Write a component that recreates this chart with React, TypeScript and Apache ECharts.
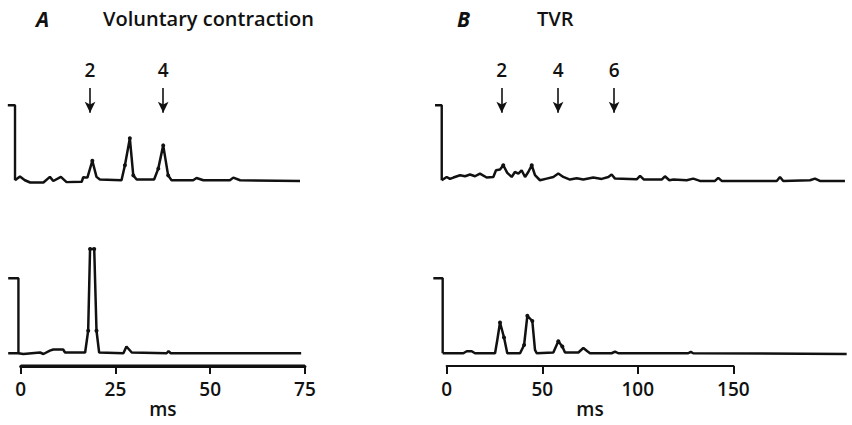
import React, { useEffect, useRef } from "react";
import * as echarts from "echarts";

// Interval histograms (counts, arbitrary units; calibration bar = 10) against time in ms.

// A — voluntary contraction, upper trace
const aTopTime = [-1.5, -0.2, 1.1, 2.5, 6.0, 7.7, 8.6, 10.6, 12.1, 16.1, 16.5, 17.6, 18.9, 20.0, 20.9, 26.6, 27.5, 28.8, 29.7, 30.6, 35.2, 36.3, 37.6, 38.9, 39.8, 45.5, 46.4, 48.2, 55.2, 56.1, 57.9, 73.7];
const aTopCount = [0, 0.5, 0, -0.3, -0.3, 0.45, -0.1, 0.45, -0.25, -0.2, 0.4, 0.35, 2.6, 0.45, 0.1, 0, 2.0, 5.6, 0.65, 0.1, 0.1, 1.55, 4.65, 0.65, 0, 0, 0.3, 0, 0, 0.35, 0, -0.1];
const aTopDots = [12, 16, 17, 18, 21, 22, 23];

// A — voluntary contraction, lower trace
const aBotTime = [-0.6, 0.7, 5.1, 6.0, 7.7, 8.6, 11.2, 11.7, 17.0, 17.8, 18.3, 19.4, 20.0, 20.7, 27.1, 27.9, 29.3, 38.5, 39.0, 39.6, 74.0];
const aBotCount = [0, -0.1, 0.1, -0.1, 0.35, 0.5, 0.5, 0.1, 0.1, 3.0, 13.9, 13.9, 3.0, 0.1, 0, 0.9, 0.1, 0, 0.27, 0, 0];
const aBotDots = [9, 10, 11, 12];

// B — TVR, upper trace
const bTopTime = [-2.6, 0.0, 1.7, 3.5, 7.0, 9.6, 12.2, 14.8, 17.4, 20.9, 24.4, 25.8, 27.9, 29.6, 31.7, 34.0, 35.7, 37.5, 39.2, 41.0, 42.7, 44.5, 46.2, 48.8, 52.3, 55.8, 58.4, 61.0, 64.5, 68.0, 71.5, 76.7, 81.1, 84.6, 86.3, 88.1, 99.4, 101.2, 103.2, 112.5, 114.2, 116.5, 118.7, 125.6, 129.0, 132.5, 140.4, 142.1, 143.9, 172.7, 174.4, 176.1, 190.1, 192.7, 195.3, 208.4];
const bTopCount = [0, 0.44, 0.18, 0.36, 0.67, 0.53, 0.76, 0.53, 0.89, 0.36, 0.44, 1.33, 1.42, 2.0, 0.98, 0.44, 1.1, 0.89, 1.33, 0.44, 1.1, 2.0, 0.67, 0, 0.22, 0.44, 0.89, 0.44, 0.09, 0.27, 0.09, 0.36, 0.18, 0.44, 0.76, 0.22, 0.13, 0.58, 0.09, 0.09, 0.53, 0, 0.09, 0, 0.22, -0.09, -0.09, 0.31, -0.09, -0.09, 0.44, -0.09, 0, 0.22, -0.09, -0.09];
const bTopDots = [13, 21];

// B — TVR, lower trace
const bBotTime = [-2.1, 8.7, 10.5, 13.1, 14.8, 25.3, 26.5, 27.9, 30.0, 31.7, 38.4, 40.5, 42.2, 44.8, 46.2, 47.1, 55.8, 58.4, 60.5, 61.9, 68.9, 71.5, 73.6, 75.0, 86.3, 88.1, 89.8, 126.4, 127.7, 129.0, 209.3];
const bBotCount = [0, 0, 0.27, 0.27, 0, 0, 1.8, 4.1, 2.1, 0, 0, 1.1, 5.0, 4.3, 0.45, 0, 0.1, 1.6, 0.9, 0.1, 0.1, 0.7, 0.27, 0, 0, 0.22, 0, 0, 0.18, 0, -0.09];
const bBotDots = [7, 8, 11, 12, 13, 17, 18];

// Calibration brackets (time, count) for each trace
const aTopBar = [[-3.4, 10], [-1.5, 10], [-1.5, 0]];
const aBotBar = [[-3.3, 10], [-0.6, 10], [-0.6, 0], [-3.3, 0]];
const bTopBar = [[-6.1, 10], [-2.6, 10], [-2.6, 0]];
const bBotBar = [[-7.0, 10], [-2.1, 10], [-2.1, 0]];

// Arrowed interval markers above the upper traces
const aArrowTimes = [18.3, 37.6];
const aArrowLabels = ["2", "4"];
const bArrowTimes = [28.8, 58.3, 87.6];
const bArrowLabels = ["2", "4", "6"];

// Time-axis ticks (ms)
const aTicks = [0, 25, 50, 75];
const bTicks = [0, 50, 100, 150];

// Extent of the plotted traces (ms), a little wider than the data
const aSpan = [-4, 76];
const bSpan = [-8, 210];

const INK = "#111";
const FONT = "Open Sans";
const Y_MIN = -1.7;
const Y_MAX = 18.3;

function buildTrace(times: number[], counts: number[], dots: number[]) {
  return times.map((t, i) =>
    dots.includes(i)
      ? { value: [t, counts[i]], symbol: "circle", symbolSize: 4 }
      : { value: [t, counts[i]], symbol: "none" }
  );
}

function arrowMarks(times: number[], labels: string[]) {
  return {
    silent: true,
    symbol: ["none", "arrow"],
    symbolSize: [8, 11],
    lineStyle: { color: INK, width: 1.6, type: "solid" },
    label: {
      show: true,
      position: "start",
      formatter: "{b}",
      distance: 9,
      color: INK,
      fontFamily: FONT,
      fontWeight: 600,
      fontSize: 19,
    },
    data: times.map((t, i) => [
      { coord: [t, 12.3], name: labels[i] },
      { coord: [t, 9.0] },
    ]),
  };
}

export default function App() {
  const ref = useRef<HTMLDivElement>(null);

  useEffect(() => {
    if (!ref.current) return;
    const chart = echarts.init(ref.current, undefined, { renderer: "svg" });

    const W = 852;
    // horizontal scale of each panel: pixel of 0 ms and pixels per ms
    const aZero = 20.7;
    const aPx = 3.79;
    const bZero = 446.7;
    const bPx = 1.911;
    const topTop = 43;
    const botTop = 216;
    const gridH = 150;

    const spanGrid = (zero: number, px: number, span: number[], top: number) => ({
      left: zero + span[0] * px,
      right: W - (zero + span[1] * px),
      top,
      height: gridH,
    });
    const axisGrid = (zero: number, px: number, ticks: number[]) => ({
      left: zero,
      width: (ticks[ticks.length - 1] - ticks[0]) * px,
      top: botTop,
      height: gridH,
    });

    const grids = [
      spanGrid(aZero, aPx, aSpan, topTop),
      spanGrid(aZero, aPx, aSpan, botTop),
      spanGrid(bZero, bPx, bSpan, topTop),
      spanGrid(bZero, bPx, bSpan, botTop),
      axisGrid(aZero, aPx, aTicks),
      axisGrid(bZero, bPx, bTicks),
    ];

    const hiddenX = (g: number, span: number[]) => ({
      gridIndex: g,
      type: "value",
      min: span[0],
      max: span[1],
      show: false,
    });
    const timeAxis = (g: number, ticks: number[], lineW: number) => ({
      gridIndex: g,
      type: "value",
      position: "bottom",
      min: ticks[0],
      max: ticks[ticks.length - 1],
      interval: ticks[1] - ticks[0],
      name: "ms",
      nameLocation: "middle",
      nameGap: 33,
      nameTextStyle: { color: INK, fontFamily: FONT, fontWeight: 600, fontSize: 19 },
      axisLine: { show: true, onZero: false, lineStyle: { color: INK, width: lineW } },
      axisTick: { show: true, inside: false, length: 8, lineStyle: { color: INK, width: 2 } },
      axisLabel: { color: INK, fontFamily: FONT, fontWeight: 600, fontSize: 19, margin: 13 },
      splitLine: { show: false },
    });

    const xAxes = [
      hiddenX(0, aSpan),
      hiddenX(1, aSpan),
      hiddenX(2, bSpan),
      hiddenX(3, bSpan),
      timeAxis(4, aTicks, 3),
      timeAxis(5, bTicks, 2.2),
    ];
    const yAxes = [0, 1, 2, 3, 4, 5].map((g) => ({
      gridIndex: g,
      type: "value",
      min: Y_MIN,
      max: Y_MAX,
      show: false,
    }));

    const traceSeries = (idx: number, data: any[], extra: any = {}) => ({
      type: "line",
      xAxisIndex: idx,
      yAxisIndex: idx,
      data,
      showAllSymbol: true,
      symbol: "none",
      itemStyle: { color: INK },
      lineStyle: { color: INK, width: 2.5 },
      z: 3,
      ...extra,
    });
    const barSeries = (idx: number, data: number[][]) => ({
      type: "line",
      xAxisIndex: idx,
      yAxisIndex: idx,
      data,
      symbol: "none",
      lineStyle: { color: INK, width: 2.4 },
      z: 2,
    });

    // Time-axis rules along the bottom edge of the axis grids, first to last tick
    const rule = (zero: number, px: number, ticks: number[], lineW: number) => ({
      type: "line",
      silent: true,
      z: 100,
      shape: {
        x1: zero + ticks[0] * px,
        y1: botTop + gridH,
        x2: zero + ticks[ticks.length - 1] * px,
        y2: botTop + gridH,
      },
      style: { stroke: INK, lineWidth: lineW },
    });

    chart.setOption({
      animation: false,
      backgroundColor: "#fff",
      title: [
        { text: "A", left: 36, top: 8, padding: 0, textStyle: { color: INK, fontFamily: FONT, fontStyle: "italic", fontWeight: "bold", fontSize: 21 } },
        { text: "Voluntary contraction", left: 103, top: 8, padding: 0, textStyle: { color: INK, fontFamily: FONT, fontWeight: 600, fontSize: 20 } },
        { text: "B", left: 457, top: 8, padding: 0, textStyle: { color: INK, fontFamily: FONT, fontStyle: "italic", fontWeight: "bold", fontSize: 21 } },
        { text: "TVR", left: 537, top: 8, padding: 0, textStyle: { color: INK, fontFamily: FONT, fontWeight: 600, fontSize: 20 } },
      ],
      grid: grids,
      xAxis: xAxes,
      yAxis: yAxes,
      graphic: [rule(aZero, aPx, aTicks, 3), rule(bZero, bPx, bTicks, 2.2)],
      series: [
        traceSeries(0, buildTrace(aTopTime, aTopCount, aTopDots), { markLine: arrowMarks(aArrowTimes, aArrowLabels) }),
        barSeries(0, aTopBar),
        traceSeries(1, buildTrace(aBotTime, aBotCount, aBotDots)),
        barSeries(1, aBotBar),
        traceSeries(2, buildTrace(bTopTime, bTopCount, bTopDots), { markLine: arrowMarks(bArrowTimes, bArrowLabels) }),
        barSeries(2, bTopBar),
        traceSeries(3, buildTrace(bBotTime, bBotCount, bBotDots)),
        barSeries(3, bBotBar),
      ],
    });

    return () => chart.dispose();
  }, []);

  return (
    <div
      ref={ref}
      style={{ position: "fixed", left: 0, top: 0, width: 852, height: 425, background: "#fff" }}
    />
  );
}
